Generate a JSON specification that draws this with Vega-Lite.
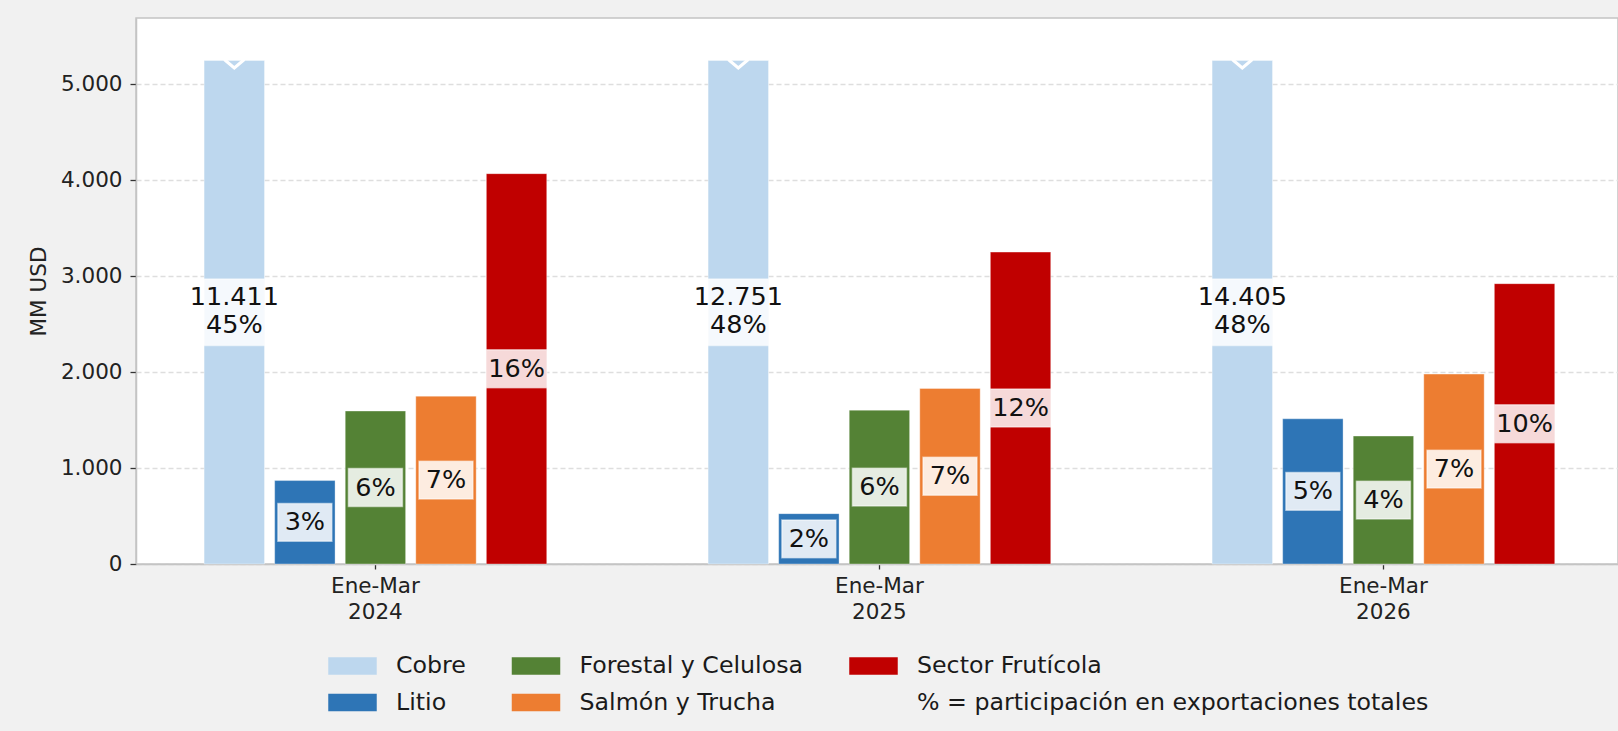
{
  "$schema": "https://vega.github.io/schema/vega-lite/v6.json",
  "width": 1482,
  "height": 546,
  "autosize": {"type": "none"},
  "padding": {"left": 136, "top": 18, "right": 0, "bottom": 167},
  "background": "#f1f1f1",
  "config": {
    "font": "DejaVu Sans",
    "locale": {"number": {"decimal": ",", "thousands": ".", "grouping": [3], "currency": ["$", ""]}},
    "view": {"fill": "white", "stroke": "#c4c4c4", "strokeWidth": 1.5},
    "axis": {"labelFont": "DejaVu Sans", "titleFont": "DejaVu Sans"}
  },
  "data": {
    "values": [
      {"period": "Ene-Mar 2024", "sector": "Cobre", "value": 11411, "pct": 45},
      {"period": "Ene-Mar 2024", "sector": "Litio", "value": 870, "pct": 3},
      {"period": "Ene-Mar 2024", "sector": "Forestal y Celulosa", "value": 1595, "pct": 6},
      {"period": "Ene-Mar 2024", "sector": "Salmón y Trucha", "value": 1750, "pct": 7},
      {"period": "Ene-Mar 2024", "sector": "Sector Frutícola", "value": 4070, "pct": 16},
      {"period": "Ene-Mar 2025", "sector": "Cobre", "value": 12751, "pct": 48},
      {"period": "Ene-Mar 2025", "sector": "Litio", "value": 525, "pct": 2},
      {"period": "Ene-Mar 2025", "sector": "Forestal y Celulosa", "value": 1604, "pct": 6},
      {"period": "Ene-Mar 2025", "sector": "Salmón y Trucha", "value": 1830, "pct": 7},
      {"period": "Ene-Mar 2025", "sector": "Sector Frutícola", "value": 3252, "pct": 12},
      {"period": "Ene-Mar 2026", "sector": "Cobre", "value": 14405, "pct": 48},
      {"period": "Ene-Mar 2026", "sector": "Litio", "value": 1514, "pct": 5},
      {"period": "Ene-Mar 2026", "sector": "Forestal y Celulosa", "value": 1334, "pct": 4},
      {"period": "Ene-Mar 2026", "sector": "Salmón y Trucha", "value": 1980, "pct": 7},
      {"period": "Ene-Mar 2026", "sector": "Sector Frutícola", "value": 2923, "pct": 10}
    ]
  },
  "transform": [
    {"calculate": "min(datum.value, 5250)", "as": "display"},
    {"calculate": "datum.display / 2", "as": "mid"},
    {"calculate": "datum.sector == 'Cobre' ? format(datum.value, ',') + '\\n' + datum.pct + '%' : datum.pct + '%'", "as": "label"}
  ],
  "encoding": {
    "x": {
      "field": "period", "type": "nominal",
      "scale": {"paddingInner": 0.3, "paddingOuter": 0.12024, "align": 0.52},
      "axis": {
        "title": null, "labelAngle": 0, "labelExpr": "split(datum.label, ' ')",
        "labelFontSize": 21.5, "labelLineHeight": 26, "labelColor": "#222",
        "tickSize": 5, "tickColor": "#333", "tickWidth": 1.3,
        "domainColor": "#c4c4c4", "domainWidth": 1.5, "labelPadding": 6, "grid": false
      }
    },
    "xOffset": {
      "field": "sector", "type": "nominal",
      "scale": {"domain": ["Cobre", "Litio", "Forestal y Celulosa", "Salmón y Trucha", "Sector Frutícola"], "paddingInner": 0.144, "paddingOuter": 0.072}
    }
  },
  "layer": [
    {
      "mark": {"type": "bar", "stroke": "white", "strokeOpacity": 0.35, "strokeWidth": 1},
      "encoding": {
        "y": {
          "field": "display", "type": "quantitative",
          "scale": {"domain": [0, 5693], "nice": false, "zero": true},
          "axis": {
            "values": [0, 1000, 2000, 3000, 4000, 5000], "format": ",d",
            "labelFontSize": 21.5, "labelColor": "#222", "labelPadding": 8,
            "tickSize": 6, "tickColor": "#333", "tickWidth": 1.3,
            "domainColor": "#c4c4c4", "domainWidth": 1.5,
            "grid": true, "gridColor": "#dedede", "gridDash": [5, 3], "gridWidth": 1.3,
            "title": "MM USD", "titleFontSize": 21.5, "titleFontWeight": "normal", "titleColor": "#222", "titlePadding": 10
          }
        },
        "color": {
          "field": "sector", "type": "nominal",
          "scale": {
            "domain": ["Cobre", "Forestal y Celulosa", "Sector Frutícola", "Litio", "Salmón y Trucha", "% = participación en exportaciones totales"],
            "range": ["#bdd7ee", "#548235", "#c00000", "#2e75b6", "#ed7d31", "rgba(0,0,0,0)"]
          },
          "legend": {
            "title": null, "orient": "none", "legendX": 192, "legendY": 623,
            "columns": 3, "direction": "horizontal", "padding": 0,
            "columnPadding": 45.5, "rowPadding": -1,
            "symbolType": "M-1,-0.36L1,-0.36L1,0.36L-1,0.36Z", "symbolSize": 2352,
            "symbolStrokeWidth": 0, "symbolOpacity": 1,
            "labelFont": "DejaVu Sans", "labelFontSize": 23.7, "labelColor": "#1a1a1a",
            "labelOffset": 19, "labelLimit": 800
          }
        }
      }
    },
    {
      "transform": [{"filter": "datum.sector == 'Cobre'"}],
      "mark": {"type": "point", "shape": "M-1,-0.1L0,0.75L1,-0.1", "size": 400, "filled": false, "stroke": "white", "strokeWidth": 3, "opacity": 1},
      "encoding": {"y": {"field": "display", "type": "quantitative"}}
    },
    {
      "transform": [{"filter": "datum.sector == 'Cobre'"}],
      "mark": {"type": "point", "shape": "M-1,-1.1L1,-1.1L1,1.1L-1,1.1Z", "size": 3648, "filled": true, "fill": "white", "fillOpacity": 0.85, "stroke": "white", "strokeOpacity": 0.5, "strokeWidth": 1.5, "opacity": 1},
      "encoding": {"y": {"field": "mid", "type": "quantitative"}}
    },
    {
      "transform": [{"filter": "datum.sector != 'Cobre' && datum.pct >= 10"}],
      "mark": {"type": "point", "shape": "M-1,-0.63L1,-0.63L1,0.63L-1,0.63Z", "size": 3648, "filled": true, "fill": "white", "fillOpacity": 0.85, "stroke": "white", "strokeOpacity": 0.5, "strokeWidth": 1.5, "opacity": 1},
      "encoding": {"y": {"field": "mid", "type": "quantitative"}}
    },
    {
      "transform": [{"filter": "datum.sector != 'Cobre' && datum.pct < 10"}],
      "mark": {"type": "point", "shape": "M-1,-0.7L1,-0.7L1,0.7L-1,0.7Z", "size": 2916, "filled": true, "fill": "white", "fillOpacity": 0.85, "stroke": "white", "strokeOpacity": 0.5, "strokeWidth": 1.5, "opacity": 1},
      "encoding": {"y": {"field": "mid", "type": "quantitative"}}
    },
    {
      "transform": [{"filter": "datum.sector != 'Cobre'"}],
      "mark": {"type": "text", "font": "DejaVu Sans", "fontSize": 25.5, "color": "#111", "align": "center", "baseline": "middle"},
      "encoding": {
        "y": {"field": "mid", "type": "quantitative"},
        "text": {"field": "label", "type": "nominal"}
      }
    },
    {
      "transform": [{"filter": "datum.sector == 'Cobre'"}],
      "mark": {"type": "text", "font": "DejaVu Sans", "fontSize": 25.5, "color": "#111", "align": "center", "baseline": "middle", "lineBreak": "\n", "lineHeight": 27.5, "dy": -15},
      "encoding": {
        "y": {"field": "mid", "type": "quantitative"},
        "text": {"field": "label", "type": "nominal"}
      }
    }
  ]
}
